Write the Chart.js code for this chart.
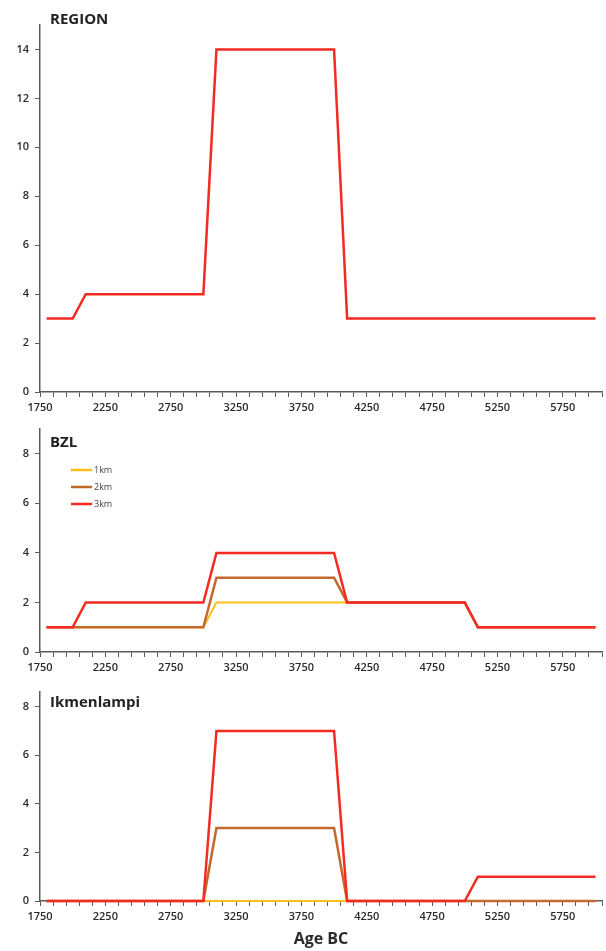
<!DOCTYPE html>
<html>
<head>
<meta charset="utf-8">
<script src="https://cdn.jsdelivr.net/npm/chart.js@4.4.1/dist/chart.umd.min.js"></script>
<style>
body{margin:0;background:#fff;width:606px;height:951px;position:relative;overflow:hidden}
canvas{position:absolute;left:0}
</style>
</head>
<body>
<canvas id="c1" width="606" height="415" style="top:0px"></canvas>
<canvas id="c2" width="606" height="260" style="top:415px"></canvas>
<canvas id="c3" width="606" height="276" style="top:675px"></canvas>
<script>
// ages BC of each point (100 year bins)
const years=[1800,1900,2000,2100,2200,2300,2400,2500,2600,2700,2800,2900,3000,
  3100,3200,3300,3400,3500,3600,3700,3800,3900,4000,
  4100,4200,4300,4400,4500,4600,4700,4800,4900,5000,
  5100,5200,5300,5400,5500,5600,5700,5800,5900,6000]
const xLabels=[1750,2250,2750,3250,3750,4250,4750,5250,5750]

const region=[3,3,3, 4,4,4,4,4,4,4,4,4,4, 14,14,14,14,14,14,14,14,14,14,
  3,3,3,3,3,3,3,3,3,3, 3,3,3,3,3,3,3,3,3,3]

const bzl1km=[1,1,1, 1,1,1,1,1,1,1,1,1,1, 2,2,2,2,2,2,2,2,2,2,
  2,2,2,2,2,2,2,2,2,2, 1,1,1,1,1,1,1,1,1,1]
const bzl2km=[1,1,1, 1,1,1,1,1,1,1,1,1,1, 3,3,3,3,3,3,3,3,3,3,
  2,2,2,2,2,2,2,2,2,2, 1,1,1,1,1,1,1,1,1,1]
const bzl3km=[1,1,1, 2,2,2,2,2,2,2,2,2,2, 4,4,4,4,4,4,4,4,4,4,
  2,2,2,2,2,2,2,2,2,2, 1,1,1,1,1,1,1,1,1,1]

const ikm1km=[0,0,0, 0,0,0,0,0,0,0,0,0,0, 0,0,0,0,0,0,0,0,0,0,
  0,0,0,0,0,0,0,0,0,0, 0,0,0,0,0,0,0,0,0,0]
const ikm2km=[0,0,0, 0,0,0,0,0,0,0,0,0,0, 3,3,3,3,3,3,3,3,3,3,
  0,0,0,0,0,0,0,0,0,0, 0,0,0,0,0,0,0,0,0,0]
const ikm3km=[0,0,0, 0,0,0,0,0,0,0,0,0,0, 7,7,7,7,7,7,7,7,7,7,
  0,0,0,0,0,0,0,0,0,0, 1,1,1,1,1,1,1,1,1,1]

const seriesNames=['1km','2km','3km']
const regionTicks=[0,2,4,6,8,10,12,14]
const smallTicks=[0,2,4,6,8]

const xMin=1750, xMax=6050, xStep=100
const colors=['#ffbf1a','#c5682e','#f42b20']
const widths=[2,2.5,2.5]
const axisColor='#5a5a5a'
const font='"Open Sans", sans-serif'

const pts=vals=>years.map((x,i)=>({x,y:vals[i]}))
const series=list=>list.map((vals,i)=>({
  label:seriesNames[i],data:pts(vals),borderColor:colors[i],borderWidth:widths[i],
  order:3-i,clip:false
}))

// panel title and small legend inside the plot
const panelPlugin={
  id:'panel',
  afterDraw(chart,args,opts){
    const {ctx,chartArea}=chart
    ctx.save()
    ctx.fillStyle='#222'
    ctx.font='bold 15px '+font
    ctx.textBaseline='alphabetic'
    ctx.fillText(opts.text,chartArea.left+10,chartArea.top+opts.dy)
    if(opts.legend){
      ctx.font='9px '+font
      ctx.textBaseline='middle'
      chart.data.datasets.forEach((ds,i)=>{
        const y=chartArea.top+41+i*17
        ctx.strokeStyle=ds.borderColor
        ctx.lineWidth=2.5
        ctx.beginPath()
        ctx.moveTo(chartArea.left+31,y)
        ctx.lineTo(chartArea.left+52,y)
        ctx.stroke()
        ctx.fillStyle='#444'
        ctx.fillText(ds.label,chartArea.left+54,y+0.5)
      })
    }
    ctx.restore()
  }
}

const makeChart=(id,datasets,yMax,yTicks,padTop,xHeight,panel,xTitle)=>new Chart(document.getElementById(id),{
  type:'line',
  data:{datasets},
  plugins:[panelPlugin],
  options:{
    responsive:false,
    animation:false,
    layout:{padding:{top:padTop,right:3,left:0,bottom:0}},
    elements:{point:{radius:0},line:{tension:0}},
    plugins:{legend:{display:false},tooltip:{enabled:false},panel},
    scales:{
      x:{
        type:'linear',min:xMin,max:xMax,
        afterBuildTicks:s=>{
          const t=[]
          for(let v=xMin;v<=xMax;v+=xStep)t.push({value:v})
          s.ticks=t
        },
        afterFit:s=>{s.height=xHeight},
        grid:{drawOnChartArea:false,drawTicks:true,tickLength:5,tickColor:axisColor,tickWidth:1},
        border:{color:axisColor,width:1.5},
        ticks:{autoSkip:false,maxRotation:0,minRotation:0,padding:4,color:'#2a2a2a',
          font:{family:font,size:11,weight:'600'},
          callback:v=>xLabels.includes(v)?String(v):''},
        title:xTitle?{display:true,text:xTitle,color:'#2a2a2a',font:{family:font,size:16,weight:'bold'},padding:{top:0,bottom:2}}:{display:false}
      },
      y:{
        min:0,max:yMax,
        afterBuildTicks:s=>{s.ticks=yTicks.map(v=>({value:v}))},
        afterFit:s=>{s.width=40},
        grid:{drawOnChartArea:false,drawTicks:true,tickLength:5,tickColor:axisColor,tickWidth:1},
        border:{color:axisColor,width:1.5},
        ticks:{padding:6,color:'#2a2a2a',font:{family:font,size:11,weight:'600'}}
      }
    }
  }
})

makeChart('c1',[{label:'REGION',data:pts(region),borderColor:colors[2],borderWidth:2.5,clip:false}],
  15,regionTicks,25,23,{text:'REGION',dy:-1,legend:false})
makeChart('c2',series([bzl1km,bzl2km,bzl3km]),9,smallTicks,14,23,{text:'BZL',dy:18,legend:true})
makeChart('c3',series([ikm1km,ikm2km,ikm3km]),8.6,smallTicks,17,50,{text:'Ikmenlampi',dy:14.5,legend:false},'Age BC')
</script>
</body>
</html>
